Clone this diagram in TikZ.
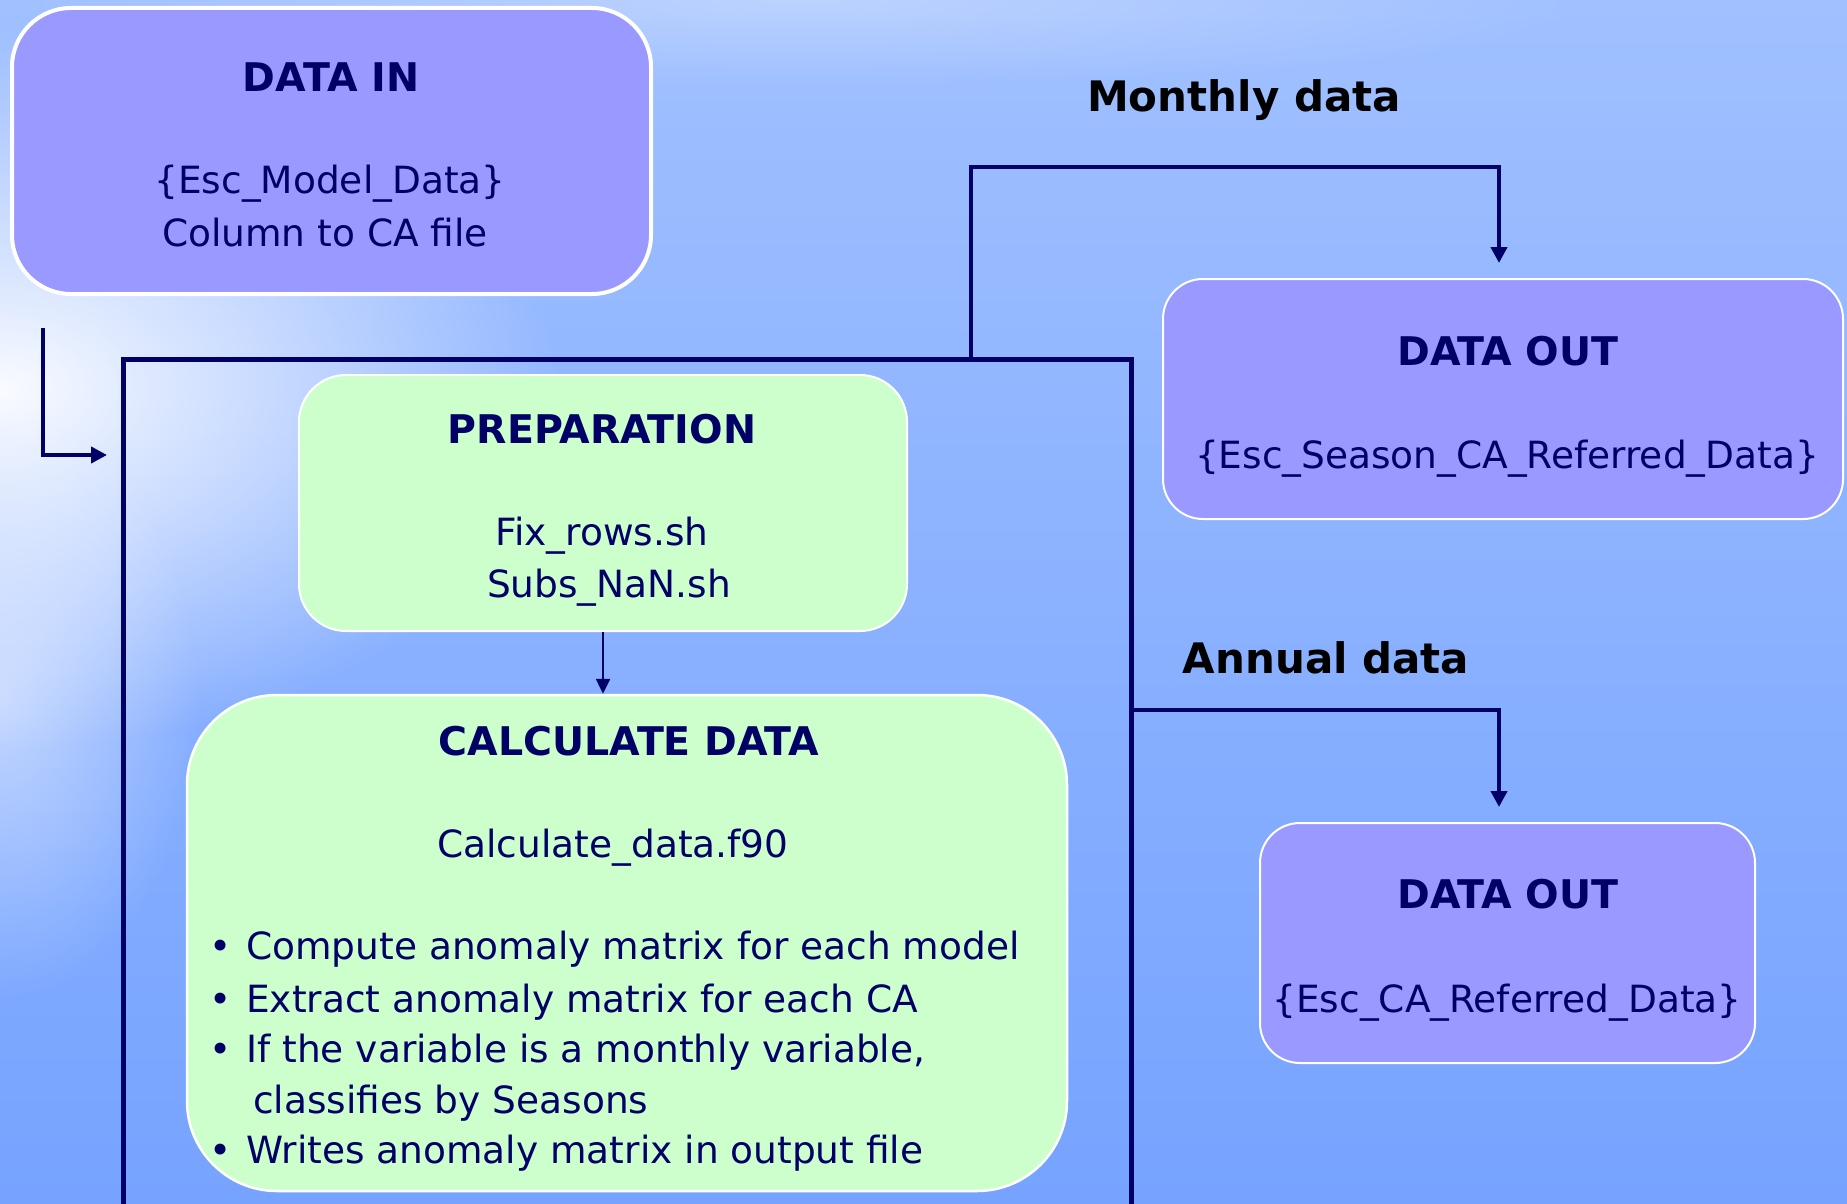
\documentclass[tikz,border=0pt]{standalone}
\usepackage{fontspec}
\setmainfont{DejaVu Sans}
\usetikzlibrary{arrows.meta,fadings}
\definecolor{navy}{RGB}{0,0,102}
\definecolor{boxpurple}{RGB}{153,153,255}
\definecolor{boxgreen}{RGB}{204,255,204}
\definecolor{bgtop}{RGB}{160,192,255}
\definecolor{bgbot}{RGB}{118,163,255}
\tikzfading[name=myglow, inner color=transparent!0, outer color=transparent!100]
\begin{document}
\begin{tikzpicture}[x=1pt,y=-1pt,
  box/.style={draw=white, inner sep=0pt, rounded corners=#1},
  txt/.style={inner sep=0pt, anchor=base, text=navy, font=\fontsize{37.5}{45}\selectfont},
  ttl/.style={inner sep=0pt, anchor=base, text=navy, font=\fontsize{39.5}{45}\selectfont\bfseries},
  lbl/.style={inner sep=0pt, anchor=base, text=black, font=\fontsize{42}{50}\selectfont\bfseries},
  conn/.style={draw=navy, line width=4.3pt},
  tip/.style={-{Triangle[length=16pt,width=16pt]}},
  framestyle/.style={draw=navy, line width=5pt}
]
\useasboundingbox (0,0) rectangle (1847,1204);
% background
\shade[top color=bgtop, bottom color=bgbot] (0,0) rectangle (1847,1204);
\fill[white, path fading=myglow, fit fading=true, opacity=0.95] (0,390) ellipse [x radius=560, y radius=360];
\fill[white, path fading=myglow, fit fading=true, opacity=0.5] (0,700) ellipse [x radius=200, y radius=300];
\fill[white, path fading=myglow, fit fading=true, opacity=0.3] (800,0) ellipse [x radius=800, y radius=90];

% frame
\draw[framestyle] (123,1240) |- (1131,359) -- (1131,1240);
\coordinate (mstart) at (971,359);
\coordinate (astart) at (1131,710);

% boxes
\node[box=59pt, fill=boxpurple, line width=4pt, minimum width=639pt, minimum height=286pt] (datain) at (331.5,151) {};
\node[box=40pt, fill=boxpurple, line width=2pt, minimum width=680pt, minimum height=240pt] (out1) at (1503,399) {};
\node[box=47pt, fill=boxgreen, line width=2pt, minimum width=608pt, minimum height=256pt] (prep) at (603,503) {};
\node[box=90pt, fill=boxgreen, line width=2.5pt, minimum width=880pt, minimum height=496pt] (calc) at (627,943) {};
\node[box=40pt, fill=boxpurple, line width=2pt, minimum width=495pt, minimum height=240pt] (out2) at (1507.5,943) {};

% texts
\node[ttl] (t1) at (331,92) {DATA IN};
\node[txt] (t2) at (330,193) {\{Esc\_Model\_Data\}};
\node[txt] (t3) at (325,246) {Column to CA file};

\node[lbl] (monthly) at (1244,112) {Monthly data};
\node[lbl] (annual) at (1326,673) {Annual data};

\node[ttl] (t4) at (1508,365) {DATA OUT};
\node[txt] (t5) at (1507,468) {\{Esc\_Season\_CA\_Referred\_Data\}};

\node[ttl] (t6) at (602,443) {PREPARATION};
\node[txt] (t7) at (602,545) {Fix\_rows.sh};
\node[txt] (t8) at (609,597) {Subs\_NaN.sh};

\node[ttl] (t9) at (629,755) {CALCULATE DATA};
\node[txt] (t10) at (613,857) {Calculate\_data.f90};

\node[txt] (b1) at (221,959) {•};
\node[txt, anchor=base west] (l1) at (246,959) {Compute anomaly matrix for each model};
\node[txt] (b2) at (221,1012) {•};
\node[txt, anchor=base west] (l2) at (246,1012) {Extract anomaly matrix for each CA};
\node[txt] (b3) at (221,1062) {•};
\node[txt, anchor=base west] (l3) at (246,1062) {If the variable is a monthly variable,};
\node[txt, anchor=base west] (l4) at (253,1113) {classifies by Seasons};
\node[txt] (b5) at (221,1163) {•};
\node[txt, anchor=base west] (l5) at (246,1163) {Writes anomaly matrix in output file};

\node[ttl] (t11) at (1508,908) {DATA OUT};
\node[txt] (t12) at (1507,1012) {\{Esc\_CA\_Referred\_Data\}};

% connectors
\coordinate (lstart) at (43,328);
\coordinate (lend) at (107,455);
\draw[conn, tip] (lstart) |- (lend);
\coordinate (mtip) at (1499,263);
\draw[conn, tip] (mstart) |- (1499,167) -- (mtip);
\coordinate (atip) at (1499,807);
\draw[conn, tip] (astart) -| (atip);
\draw[draw=navy, line width=2.5pt, -{Triangle[length=15pt,width=14pt]}] (prep.south) -- (prep.south |- calc.north);
\end{tikzpicture}
\end{document}
